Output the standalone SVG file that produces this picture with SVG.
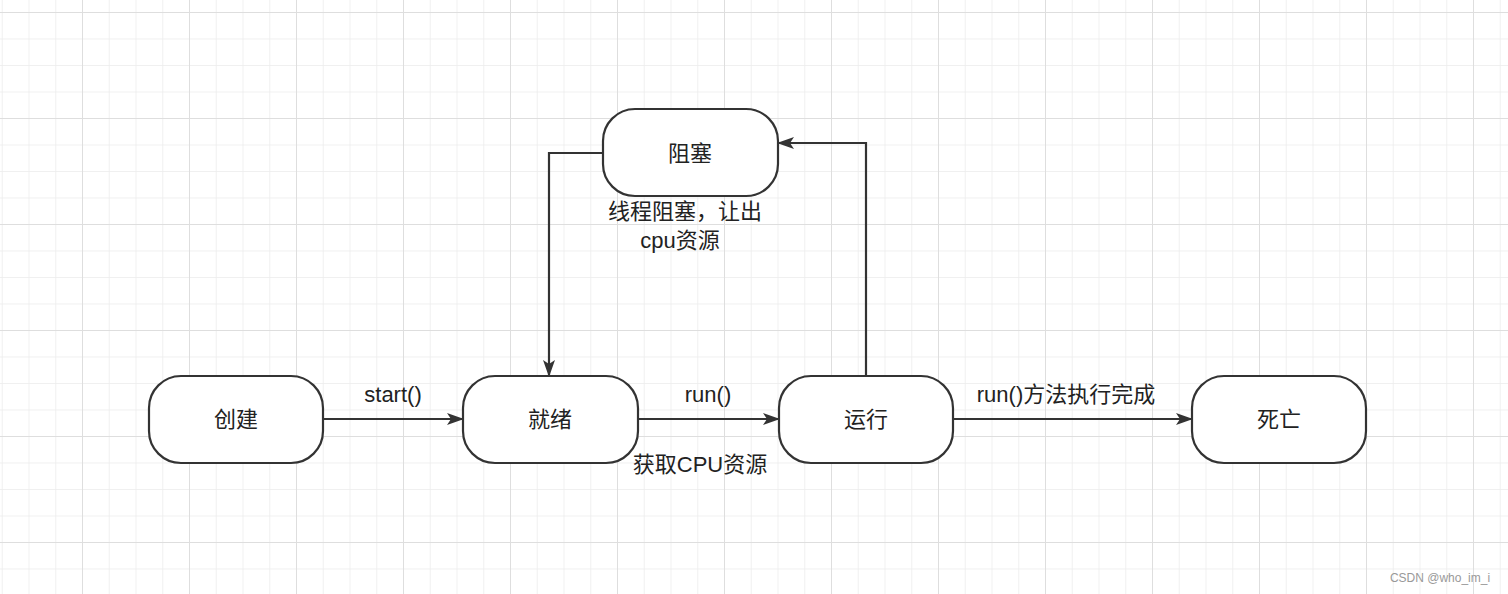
<svg xmlns="http://www.w3.org/2000/svg" width="1508" height="594" viewBox="0 0 1508 594">
<defs>
<pattern id="minor" x="-25" y="12" width="26.75" height="26.5" patternUnits="userSpaceOnUse"><path d="M0 0V26.5M0 0H26.75" fill="none" stroke="#ececec" stroke-width="1.5"/></pattern>
<pattern id="major" x="-25" y="12" width="107" height="106" patternUnits="userSpaceOnUse"><path d="M0 0V106M0 0H107" fill="none" stroke="#dedede" stroke-width="2"/></pattern>
<marker id="ah" markerWidth="17" markerHeight="12" refX="16" refY="6" orient="auto" markerUnits="userSpaceOnUse"><path d="M0 0L17 6L0 12L4 6Z" fill="#333"/></marker>
</defs>
<style>
.n{fill:#fff;stroke:#333;stroke-width:2.2}
.t{font-family:"Liberation Sans","Noto Sans CJK SC",sans-serif;font-size:22px;fill:#222;text-anchor:middle}
.e{fill:none;stroke:#333;stroke-width:2.2;marker-end:url(#ah)}
</style>
<rect width="1508" height="594" fill="#fff"/>
<rect width="1508" height="594" fill="url(#minor)"/>
<rect width="1508" height="594" fill="url(#major)"/>
<g id="connectors">
<path class="e" d="M323 419H463"/>
<path class="e" d="M638 419H779"/>
<path class="e" d="M953 419H1192"/>
<path class="e" d="M603 153H549V376"/>
<path class="e" d="M866 376V143H778"/>
<text class="t" x="393" y="402">start()</text>
<text class="t" x="708" y="402">run()</text>
<text class="t" x="700" y="472">获取CPU资源</text>
<text class="t" x="1066" y="402">run()方法执行完成</text>
<text class="t" x="685" y="219">线程阻塞，让出</text>
<text class="t" x="680" y="248">cpu资源</text>
</g>
<g id="n1"><rect class="n" x="149" y="376" width="174" height="87" rx="32"/><text class="t" x="236" y="427">创建</text></g>
<g id="n2"><rect class="n" x="463" y="376" width="175" height="87" rx="32"/><text class="t" x="550" y="427">就绪</text></g>
<g id="n3"><rect class="n" x="779" y="376" width="174" height="87" rx="32"/><text class="t" x="866" y="427">运行</text></g>
<g id="n4"><rect class="n" x="1192" y="376" width="174" height="87" rx="32"/><text class="t" x="1279" y="427">死亡</text></g>
<g id="n5"><rect class="n" x="603" y="109" width="175" height="87" rx="32"/><text class="t" x="690" y="161">阻塞</text></g>
<text x="1440" y="582" style="font-family:'Liberation Sans',sans-serif;font-size:12px;fill:#999;text-anchor:middle">CSDN @who_im_i</text>
</svg>
